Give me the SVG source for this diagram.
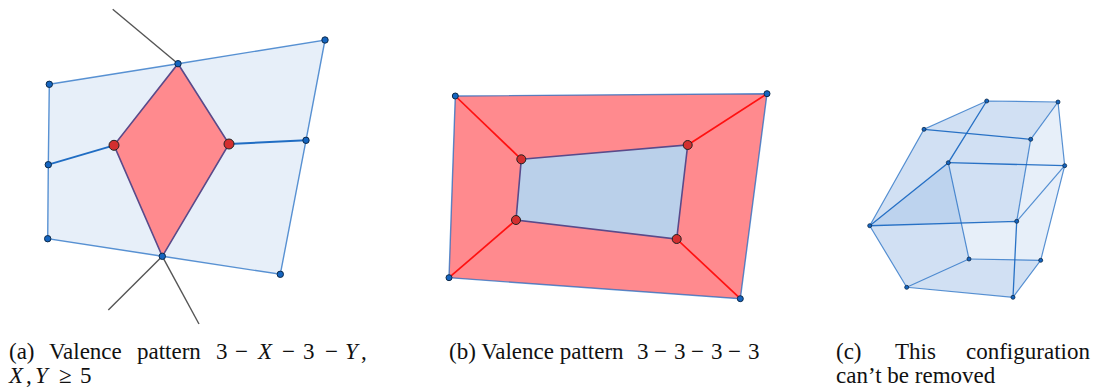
<svg xmlns="http://www.w3.org/2000/svg" width="1097" height="392" viewBox="0 0 1097 392">
<style>
text{font-family:"Liberation Serif","Times New Roman",serif;font-size:23px;fill:#111}
.i{font-style:italic}
.bl{fill:#1565c0;stroke:#0d2a4a;stroke-width:1}
.rd{fill:#d32f2f;stroke:#222;stroke-width:1}
.e{fill:none;stroke:#1565c0;stroke-opacity:.7;stroke-width:1.4}
.eb{fill:none;stroke:#1565c0;stroke-width:1.9;stroke-opacity:.95}
.k{fill:none;stroke:#555;stroke-width:1.4}
.r{fill:none;stroke:#f11;stroke-width:1.7}
.rf{fill:#ff8a8e}
.d{stroke:#5a4a8a;stroke-width:1.6}
.f{fill:#1565c0;fill-opacity:.1;stroke:none}
.c{fill:none;stroke:#1565c0;stroke-opacity:.7;stroke-width:1.2}
.c2{fill:none;stroke:#1565c0;stroke-opacity:.9;stroke-width:1.3}
.cd{fill:#1565c0;stroke:#0d2a4a;stroke-width:.8}
</style>
<g id="figure-a">
<polygon points="49.3,84.3 178,63.7 325,40 306,140.3 280.3,274.3 162.3,256.3 47.7,238.7 48.3,164.7" class="f"/>
<polygon points="178,63.7 229,144 162.3,256.3 114,145.3" class="rf d"/>
<g id="a-connectors">
<polyline points="49.3,84.3 178,63.7 325,40 306,140.3 280.3,274.3 162.3,256.3 47.7,238.7 48.3,164.7 49.3,84.3" class="e"/>
<line x1="48.3" y1="164.7" x2="114" y2="145.3" class="eb"/>
<line x1="229" y1="144" x2="306" y2="140.3" class="eb"/>
<line x1="112.7" y1="9.3" x2="178" y2="63.7" class="k"/>
<line x1="108.3" y1="310" x2="162.3" y2="256.3" class="k"/>
<line x1="199" y1="324" x2="162.3" y2="256.3" class="k"/>
</g>
<g id="a-nodes">
<circle cx="325" cy="40" r="3.2" class="bl"/><circle cx="178" cy="63.7" r="3.2" class="bl"/><circle cx="49.3" cy="84.3" r="3.2" class="bl"/><circle cx="48.3" cy="164.7" r="3.2" class="bl"/><circle cx="47.7" cy="238.7" r="3.2" class="bl"/><circle cx="162.3" cy="256.3" r="3.2" class="bl"/><circle cx="280.3" cy="274.3" r="3.2" class="bl"/><circle cx="306" cy="140.3" r="3.2" class="bl"/>
<circle cx="114" cy="145.3" r="5" class="rd"/><circle cx="229" cy="144" r="5" class="rd"/>
</g>
</g>
<g id="figure-b">
<polygon points="455.3,96 767,93.7 740.3,298.7 449,277.7" class="rf"/>
<polygon points="521.3,159.3 687.7,145 676.7,239 516,220" fill="#bad0ea" class="d"/>
<g id="b-connectors">
<polygon points="455.3,96 767,93.7 740.3,298.7 449,277.7" class="e"/>
<line x1="455.3" y1="96" x2="521.3" y2="159.3" class="r"/>
<line x1="767" y1="93.7" x2="687.7" y2="145" class="r"/>
<line x1="740.3" y1="298.7" x2="676.7" y2="239" class="r"/>
<line x1="449" y1="277.7" x2="516" y2="220" class="r"/>
</g>
<g id="b-nodes">
<circle cx="455.3" cy="96" r="3" class="bl"/><circle cx="767" cy="93.7" r="3" class="bl"/><circle cx="740.3" cy="298.7" r="3" class="bl"/><circle cx="449" cy="277.7" r="3" class="bl"/>
<circle cx="521.3" cy="159.3" r="4.5" class="rd"/><circle cx="687.7" cy="145" r="4.5" class="rd"/><circle cx="676.7" cy="239" r="4.5" class="rd"/><circle cx="516" cy="220" r="4.5" class="rd"/>
</g>
</g>
<g id="figure-c">
<polygon points="924,129.3 986.7,101 1058,102 1064.7,165.7 1040.7,260.3 1013,297.3 906.7,287.3 869.7,225.7" class="f"/>
<polygon points="924,129.3 986.7,101 1058,102 1030.7,139.3" class="f"/>
<polygon points="924,129.3 1030.7,139.3 1016.7,221.3 869.7,225.7" class="f"/>
<polygon points="869.7,225.7 948.3,162.7 969,259 906.7,287.3" class="f"/>
<polygon points="906.7,287.3 969,259 1040.7,260.3 1013,297.3" class="f"/>
<g id="c-connectors">
<polyline points="869.7,225.7 924,129.3 986.7,101 1058,102 1064.7,165.7 1040.7,260.3 1013,297.3 906.7,287.3 869.7,225.7" class="c"/>
<polyline points="1030.7,139.3 1058,102" class="c"/>
<polyline points="948.3,162.7 969,259 906.7,287.3" class="c"/>
<polyline points="969,259 1040.7,260.3" class="c"/>
<polyline points="1030.7,139.3 1016.7,221.3" class="c"/>
<polyline points="1016.7,221.3 1064.7,165.7" class="c"/>
<polyline points="924,129.3 1030.7,139.3" class="c2"/>
<polyline points="986.7,101 948.3,162.7 869.7,225.7 1016.7,221.3 1013,297.3" class="c2"/>
<polyline points="948.3,162.7 1064.7,165.7" class="c2"/>
</g>
<g id="c-nodes">
<circle cx="986.7" cy="101" r="2" class="cd"/><circle cx="1058" cy="102" r="2" class="cd"/><circle cx="924" cy="129.3" r="2" class="cd"/><circle cx="1030.7" cy="139.3" r="2" class="cd"/><circle cx="948.3" cy="162.7" r="2" class="cd"/><circle cx="1064.7" cy="165.7" r="2" class="cd"/><circle cx="869.7" cy="225.7" r="2" class="cd"/><circle cx="1016.7" cy="221.3" r="2" class="cd"/><circle cx="969" cy="259" r="2" class="cd"/><circle cx="1040.7" cy="260.3" r="2" class="cd"/><circle cx="906.7" cy="287.3" r="2" class="cd"/><circle cx="1013" cy="297.3" r="2" class="cd"/>
</g>
</g>
<g id="captions">
<text x="9" y="359">(a)</text><text x="49" y="359">Valence</text><text x="137" y="359">pattern</text><text x="216" y="359">3</text><text x="235" y="359">−</text><text x="258" y="359" class="i">X</text><text x="282" y="359">−</text><text x="303" y="359">3</text><text x="325" y="359">−</text><text x="345" y="359" class="i">Y</text><text x="361" y="359">,</text>
<text x="9" y="383" class="i">X</text><text x="26" y="383">,</text><text x="35" y="383" class="i">Y</text><text x="59" y="383">≥</text><text x="80" y="383">5</text>
<text x="449" y="359">(b) Valence pattern</text><text x="637" y="359">3</text><text x="654" y="359">−</text><text x="674" y="359">3</text><text x="691" y="359">−</text><text x="711" y="359">3</text><text x="728" y="359">−</text><text x="748" y="359">3</text>
<text x="836" y="359">(c)</text><text x="895" y="359">This</text><text x="966" y="359">configuration</text>
<text x="836" y="383">can’t be removed</text>
</g>
</svg>
